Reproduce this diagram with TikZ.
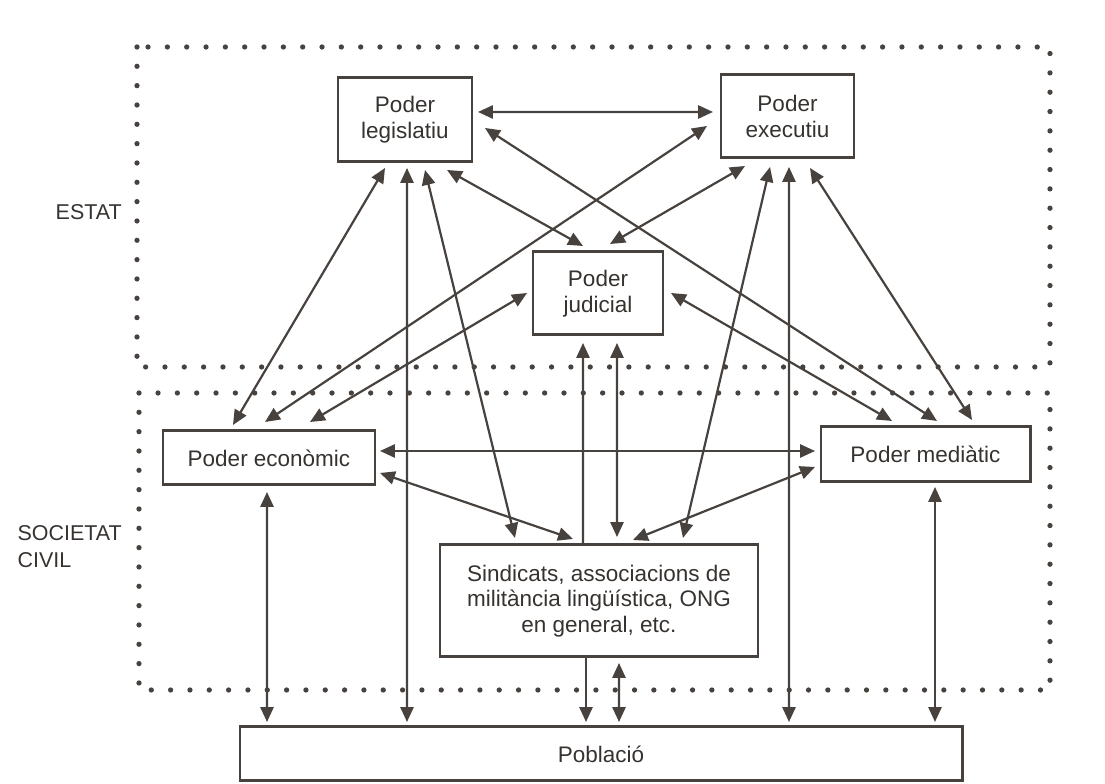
\documentclass[tikz,border=0pt]{standalone}
\usepackage{fontspec}
\setsansfont{Liberation Sans}
\usepackage{tikz}
\usetikzlibrary{arrows.meta,calc}
\tikzset{every picture/.style={/utils/exec={\sffamily}}}
\definecolor{scan-ink}{HTML}{48423E}
\definecolor{scan-text}{HTML}{36322F}

\begin{document}
\begin{tikzpicture}[
    >={Triangle[length=8.5pt,width=7.5pt]},
    box/.style={draw=scan-ink, line width=1.7pt, text=scan-text, inner sep=0pt, align=center,
        font=\fontsize{12.8}{14.6}\selectfont},
    link/.style={draw=scan-ink, line width=1.25pt, <->},
    oneway/.style={draw=scan-ink, line width=1.25pt, ->},
    zone/.style={draw=scan-ink, line width=3pt, line cap=round, dash pattern=on 0pt off 11pt},
    side/.style={text=scan-text, inner sep=0pt, align=left, font=\fontsize{12.2}{15.4}\selectfont}
]
    \useasboundingbox (0,0) rectangle (22.1,15.68);

    % estat i societat civil
    \draw[zone] (2.74,14.74) rectangle (21.00,8.34);
    \draw[zone] (2.78,7.82) rectangle (21.00,1.88);
    \node[side, anchor=east] (estat) at (2.44,11.44) {ESTAT};
    \node[side, anchor=east] (civil) at (2.44,4.75) {SOCIETAT\\CIVIL};

    % poders
    \node[box, minimum width=2.68cm, minimum height=1.68cm] (leg) at (8.10,13.28) {Poder\\legislatiu};
    \node[box, minimum width=2.66cm, minimum height=1.66cm] (exe) at (15.75,13.35) {Poder\\executiu};
    \node[box, minimum width=2.60cm, minimum height=1.66cm] (jud) at (11.96,9.81) {Poder\\judicial};
    \node[box, minimum width=4.24cm, minimum height=1.08cm] (eco) at (5.38,6.52) {Poder econòmic};
    \node[box, minimum width=4.18cm, minimum height=1.10cm] (med) at (18.51,6.59) {Poder mediàtic};
    \node[box, minimum width=6.36cm, minimum height=2.24cm] (sin) at (11.98,3.66)
        {Sindicats, associacions de\\militància lingüística, ONG\\en general, etc.};
    \node[box, minimum width=14.44cm, minimum height=1.08cm] (pob) at (12.02,0.60) {Població};

    % legislatiu
    \draw[link] ([shift={(1.46,0.16)}]leg.center) -- ([shift={(-1.49,0.09)}]exe.center);
    \draw[link] ([shift={(-0.40,-0.96)}]leg.center) -- ([shift={(-0.72,0.66)}]eco.center);
    \draw[link] ([shift={(0.04,-0.96)}]leg.center) -- ([shift={(-3.88,0.64)}]pob.center);
    \draw[link] ([shift={(0.40,-1.00)}]leg.center) -- ([shift={(-1.68,1.26)}]sin.center);
    \draw[link] ([shift={(0.84,-1.00)}]leg.center) -- ([shift={(-0.30,0.95)}]jud.center);
    \draw[link] ([shift={(1.60,-0.16)}]leg.center) -- ([shift={(0.23,0.67)}]med.center);

    % executiu
    \draw[link] ([shift={(-1.61,-0.19)}]exe.center) -- ([shift={(-0.08,0.72)}]eco.center);
    \draw[link] ([shift={(-0.85,-0.99)}]exe.center) -- ([shift={(0.24,0.99)}]jud.center);
    \draw[link] ([shift={(-0.35,-1.01)}]exe.center) -- ([shift={(1.68,1.26)}]sin.center);
    \draw[link] ([shift={(0.03,-1.01)}]exe.center) -- ([shift={(3.76,0.64)}]pob.center);
    \draw[link] ([shift={(0.45,-1.03)}]exe.center) -- ([shift={(0.93,0.69)}]med.center);

    % judicial
    \draw[link] ([shift={(-1.42,0.01)}]jud.center) -- ([shift={(0.82,0.72)}]eco.center);
    \draw[link] ([shift={(1.46,0.01)}]jud.center) -- ([shift={(-0.67,0.67)}]med.center);
    \draw[oneway] ([shift={(-0.32,1.12)}]sin.center) -- ([shift={(-0.30,-0.99)}]jud.center);
    \draw[link] ([shift={(0.38,-0.99)}]jud.center) -- ([shift={(0.36,1.28)}]sin.center);

    % economic i mediatic
    \draw[link] ([shift={(2.22,0.14)}]eco.center) -- ([shift={(-2.21,0.07)}]med.center);
    \draw[link] ([shift={(2.22,-0.30)}]eco.center) -- ([shift={(-0.52,1.24)}]sin.center);
    \draw[link] ([shift={(-0.04,-0.68)}]eco.center) -- ([shift={(-6.68,0.64)}]pob.center);
    \draw[link] ([shift={(-2.21,-0.25)}]med.center) -- ([shift={(0.68,1.22)}]sin.center);
    \draw[link] ([shift={(0.19,-0.65)}]med.center) -- ([shift={(6.68,0.64)}]pob.center);

    % poblacio
    \draw[oneway] ([shift={(-0.26,-1.12)}]sin.center) -- ([shift={(-0.30,0.64)}]pob.center);
    \draw[link] ([shift={(0.40,-1.24)}]sin.center) -- ([shift={(0.36,0.64)}]pob.center);

\end{tikzpicture}
\end{document}
